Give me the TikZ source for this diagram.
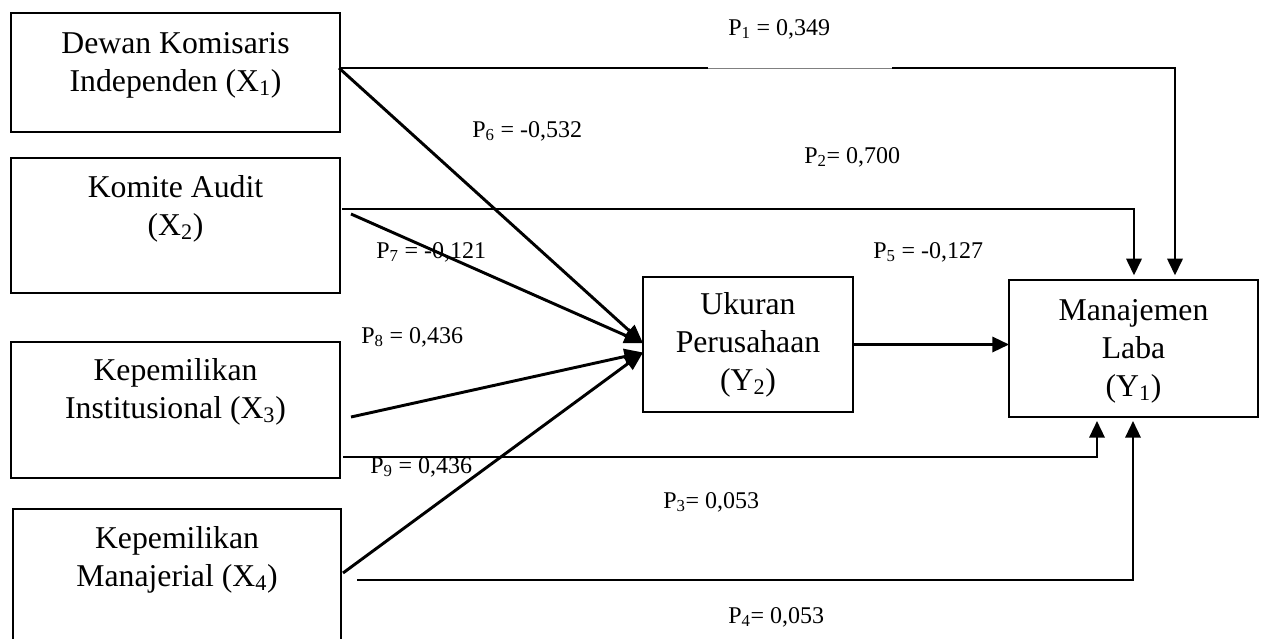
\documentclass[tikz,border=0pt]{standalone}
\usepackage{fontspec}
\setmainfont{Liberation Serif}
\usetikzlibrary{arrows.meta}
\begin{document}
\begin{tikzpicture}[x=0.75pt,y=-0.75pt,
  box/.style={draw, line width=1.5pt, inner sep=0pt, outer sep=0pt},
  % anchor=base sits on the baseline of the last line
  boxtext/.style={align=center, anchor=base, inner sep=0pt,
    font=\fontsize{23.8}{28.5}\selectfont},
  coef/.style={anchor=base west, inner sep=0pt, font=\fontsize{18}{21}\selectfont},
  link/.style={line width=1.8pt},
  arr/.style={link, -{Triangle[length=12.5pt,width=11.5pt]}},
  diag/.style={line width=2.2pt, -{Triangle[length=14pt,width=11.5pt]}},
]
\useasboundingbox (0,0) rectangle (1264,639);
\clip (0,0) rectangle (1264,639);

% variable boxes
\node[box, minimum width=329*0.75pt, minimum height=119*0.75pt] (X1) at (175.5,72.5) {};
\node[box, minimum width=329*0.75pt, minimum height=135*0.75pt] (X2) at (175.5,225.5) {};
\node[box, minimum width=329*0.75pt, minimum height=136*0.75pt] (X3) at (175.5,410) {};
\node[box, minimum width=328*0.75pt, minimum height=141*0.75pt] (X4) at (177,579.5) {};
\node[box, minimum width=210*0.75pt, minimum height=135*0.75pt] (Y2) at (748,344.5) {};
\node[box, minimum width=249*0.75pt, minimum height=137*0.75pt] (Y1) at (1133.5,348.5) {};

% box labels
\node[boxtext] (tX1) at (175.5,91) {Dewan Komisaris\\Independen (X\textsubscript{1})};
\node[boxtext] (tX2) at (175.5,235) {Komite Audit\\(X\textsubscript{2})};
\node[boxtext] (tX3) at (175.5,418) {Kepemilikan\\Institusional (X\textsubscript{3})};
\node[boxtext] (tX4) at (177,586) {Kepemilikan\\Manajerial (X\textsubscript{4})};
\node[boxtext] (tY2) at (748,390) {Ukuran\\Perusahaan\\(Y\textsubscript{2})};
\node[boxtext] (tY1) at (1133.5,396) {Manajemen\\Laba\\(Y\textsubscript{1})};

% start and bend points of the connectors
\coordinate (s1) at (339,68);
\coordinate (g1) at (708,68);
\coordinate (g2) at (892,68);
\coordinate (c1) at (1175,68);
\coordinate (s2) at (342,209);
\coordinate (c2) at (1134,209);
\coordinate (s7) at (351,214);
\coordinate (s8) at (351,417);
\coordinate (s9) at (343,457);
\coordinate (c9) at (1097,457);
\coordinate (s4) at (343,573);
\coordinate (s3) at (357,580);
\coordinate (c3) at (1133,580);

% direct paths to Manajemen Laba
\draw[link] (s1) -- (g1);
\draw[gray, line width=0.7pt] (g1) -- (g2);
\draw[arr, shorten >=3.5pt] (g2) -- (c1) -- (c1 |- Y1.north);
\draw[arr, shorten >=3.5pt] (s2) -- (c2) -- (c2 |- Y1.north);
\draw[arr, shorten >=3pt] (s9) -- (c9) -- (c9 |- Y1.south);
\draw[arr, shorten >=3pt] (s3) -- (c3) -- (c3 |- Y1.south);
\draw[arr] (Y2.east) -- (Y2.east -| Y1.west);

% paths to Ukuran Perusahaan
\draw[diag] (s1) -- ([yshift=1pt]Y2.west);
\draw[diag] (s7) -- ([yshift=1pt]Y2.west);
\draw[diag] (s8) -- ([yshift=-6pt]Y2.west);
\draw[diag] (s4) -- ([yshift=-6pt]Y2.west);

% path coefficients
\node[coef] (p1) at (728,35) {P\textsubscript{1} = 0,349};
\node[coef] (p6) at (472,137) {P\textsubscript{6} = -0,532};
\node[coef] (p2) at (804,163) {P\textsubscript{2}= 0,700};
\node[coef] (p7) at (376,258) {P\textsubscript{7} = -0,121};
\node[coef] (p5) at (873,258) {P\textsubscript{5} = -0,127};
\node[coef] (p8) at (361,343) {P\textsubscript{8} = 0,436};
\node[coef] (p9) at (370,473) {P\textsubscript{9} = 0,436};
\node[coef] (p3) at (663,508) {P\textsubscript{3}= 0,053};
\node[coef] (p4) at (728,623) {P\textsubscript{4}= 0,053};
\end{tikzpicture}
\end{document}
